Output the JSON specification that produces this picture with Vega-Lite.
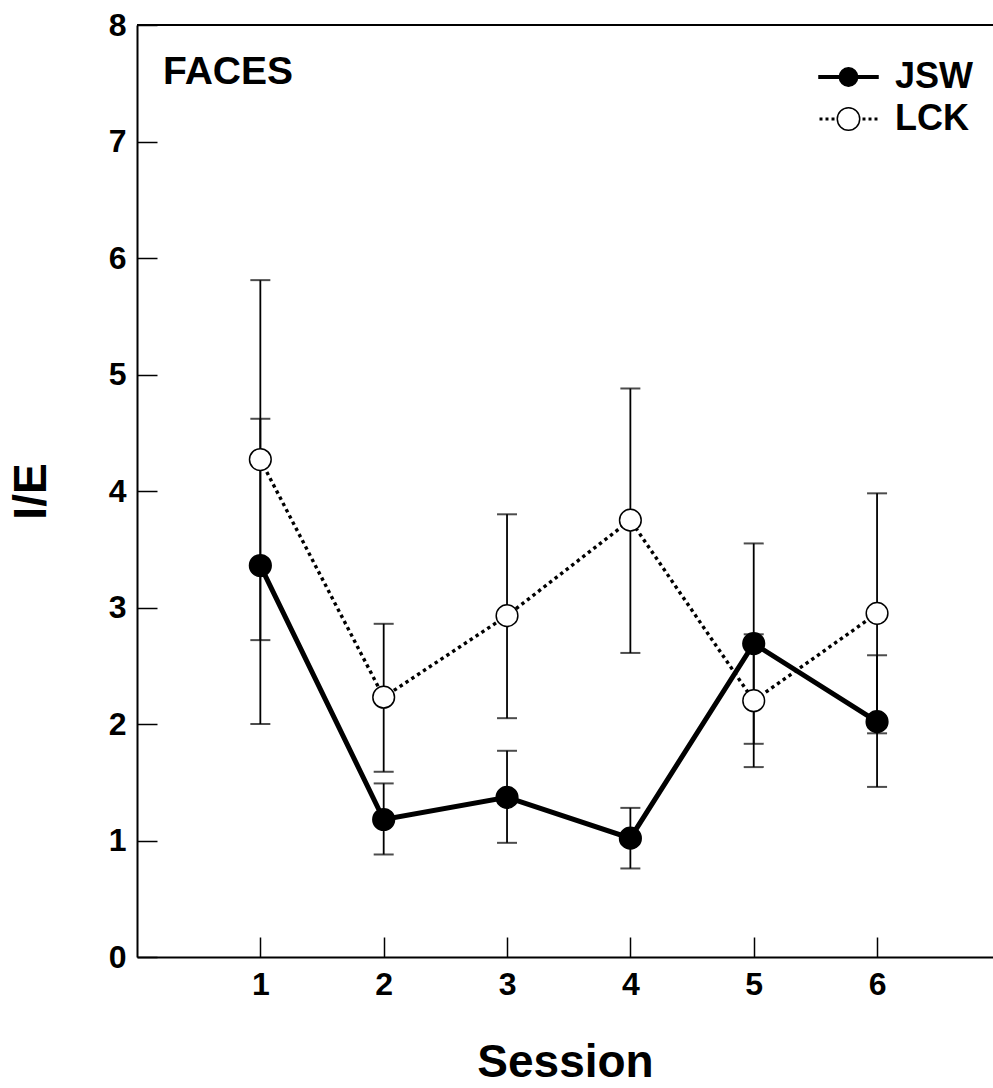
{
  "$schema": "https://vega.github.io/schema/vega-lite/v6.json",
  "width": 856,
  "height": 932,
  "autosize": {"type": "none"},
  "padding": {"left": 137, "top": 25, "right": 0, "bottom": 131},
  "background": "white",
  "config": {
    "view": {"stroke": null},
    "font": "Liberation Sans",
    "axis": {
      "domainColor": "black",
      "domainWidth": 2,
      "tickColor": "black",
      "tickWidth": 1.5,
      "tickSize": -20,
      "grid": false,
      "labelFont": "Liberation Sans",
      "labelFontSize": 32,
      "labelFontWeight": "bold",
      "labelColor": "black",
      "titleFont": "Liberation Sans",
      "titleFontSize": 46,
      "titleFontWeight": "bold",
      "titleColor": "black"
    },
    "legend": {
      "orient": "none",
      "title": null,
      "padding": 0,
      "symbolSize": 3481,
      "symbolStrokeWidth": 1.5,
      "symbolStrokeColor": "black",
      "clipHeight": 42,
      "rowPadding": 0,
      "labelOffset": 16,
      "labelFont": "Liberation Sans",
      "labelFontSize": 36,
      "labelFontWeight": "bold",
      "labelColor": "black"
    }
  },
  "title": {
    "text": "FACES",
    "anchor": "start",
    "frame": "group",
    "font": "Liberation Sans",
    "fontSize": 39,
    "fontWeight": "bold",
    "color": "black",
    "baseline": "alphabetic",
    "dx": 26,
    "offset": -114
  },
  "data": {
    "values": [
      {"session": 1, "series": "JSW", "mean": 3.36, "lo": 2.00, "hi": 4.62},
      {"session": 2, "series": "JSW", "mean": 1.18, "lo": 0.88, "hi": 1.49},
      {"session": 3, "series": "JSW", "mean": 1.37, "lo": 0.98, "hi": 1.77},
      {"session": 4, "series": "JSW", "mean": 1.02, "lo": 0.76, "hi": 1.28},
      {"session": 5, "series": "JSW", "mean": 2.69, "lo": 1.83, "hi": 3.55},
      {"session": 6, "series": "JSW", "mean": 2.02, "lo": 1.46, "hi": 2.59},
      {"session": 1, "series": "LCK", "mean": 4.27, "lo": 2.72, "hi": 5.81},
      {"session": 2, "series": "LCK", "mean": 2.23, "lo": 1.59, "hi": 2.86},
      {"session": 3, "series": "LCK", "mean": 2.93, "lo": 2.05, "hi": 3.80},
      {"session": 4, "series": "LCK", "mean": 3.75, "lo": 2.61, "hi": 4.88},
      {"session": 5, "series": "LCK", "mean": 2.20, "lo": 1.63, "hi": 2.77},
      {"session": 6, "series": "LCK", "mean": 2.95, "lo": 1.92, "hi": 3.98}
    ]
  },
  "encoding": {
    "x": {
      "field": "session",
      "type": "quantitative",
      "scale": {"domain": [0, 6.94], "nice": false, "zero": false},
      "axis": {
        "values": [1, 2, 3, 4, 5, 6],
        "format": "d",
        "labelPadding": 32,
        "title": "Session",
        "titlePadding": 40
      }
    }
  },
  "layer": [
    {
      "mark": {"type": "rule", "color": "black", "strokeWidth": 2},
      "encoding": {"x": null, "y": {"datum": 8, "type": "quantitative"}}
    },
    {
      "mark": {"type": "rule", "color": "black", "strokeWidth": 1.8},
      "encoding": {
        "y": {
          "field": "lo",
          "type": "quantitative",
          "scale": {"domain": [0, 8], "nice": false},
          "axis": {
            "values": [0, 1, 2, 3, 4, 5, 6, 7, 8],
            "format": "d",
            "labelPadding": 31,
            "title": "I/E",
            "titlePadding": 53
          }
        },
        "y2": {"field": "hi"}
      }
    },
    {
      "mark": {"type": "tick", "orient": "horizontal", "color": "black", "size": 20, "thickness": 2},
      "encoding": {"y": {"field": "lo", "type": "quantitative"}}
    },
    {
      "mark": {"type": "tick", "orient": "horizontal", "color": "black", "size": 20, "thickness": 2},
      "encoding": {"y": {"field": "hi", "type": "quantitative"}}
    },
    {
      "transform": [{"filter": "datum.series === 'LCK'"}],
      "mark": {"type": "line", "color": "black", "strokeWidth": 3.4, "strokeDash": [3.4, 3.6]},
      "encoding": {"y": {"field": "mean", "type": "quantitative"}}
    },
    {
      "transform": [{"filter": "datum.series === 'JSW'"}],
      "mark": {"type": "line", "color": "black", "strokeWidth": 5},
      "encoding": {"y": {"field": "mean", "type": "quantitative"}}
    },
    {
      "mark": {"type": "point", "filled": true, "strokeWidth": 1.5, "opacity": 1},
      "encoding": {
        "y": {"field": "mean", "type": "quantitative"},
        "size": {"value": 470},
        "fill": {
          "field": "series",
          "type": "nominal",
          "scale": {"domain": ["JSW", "LCK"], "range": ["black", "white"]},
          "legend": {
            "values": ["JSW"],
            "legendX": 681,
            "legendY": 31,
            "symbolType": "M-1,-0.045H-0.3V0.045H-1Z M0.3,-0.045H1V0.045H0.3Z M0.31,0 C0.31,0.171 0.171,0.31 0,0.31 C-0.171,0.31 -0.31,0.171 -0.31,0 C-0.31,-0.171 -0.171,-0.31 0,-0.31 C0.171,-0.31 0.31,-0.171 0.31,0 Z"
          }
        },
        "stroke": {
          "field": "series",
          "type": "nominal",
          "scale": {"domain": ["LCK", "JSW"], "range": ["black", "black"]},
          "legend": {
            "values": ["LCK"],
            "legendX": 681,
            "legendY": 73,
            "symbolFillColor": "white",
            "symbolType": "M-0.957,-0.025h0.05v0.05h-0.05Z M-0.754,-0.025h0.05v0.05h-0.05Z M-0.55,-0.025h0.05v0.05h-0.05Z M0.5,-0.025h0.05v0.05h-0.05Z M0.704,-0.025h0.05v0.05h-0.05Z M0.907,-0.025h0.05v0.05h-0.05Z M0.38,0 C0.38,0.21 0.21,0.38 0,0.38 C-0.21,0.38 -0.38,0.21 -0.38,0 C-0.38,-0.21 -0.21,-0.38 0,-0.38 C0.21,-0.38 0.38,-0.21 0.38,0 Z"
          }
        }
      }
    }
  ]
}
